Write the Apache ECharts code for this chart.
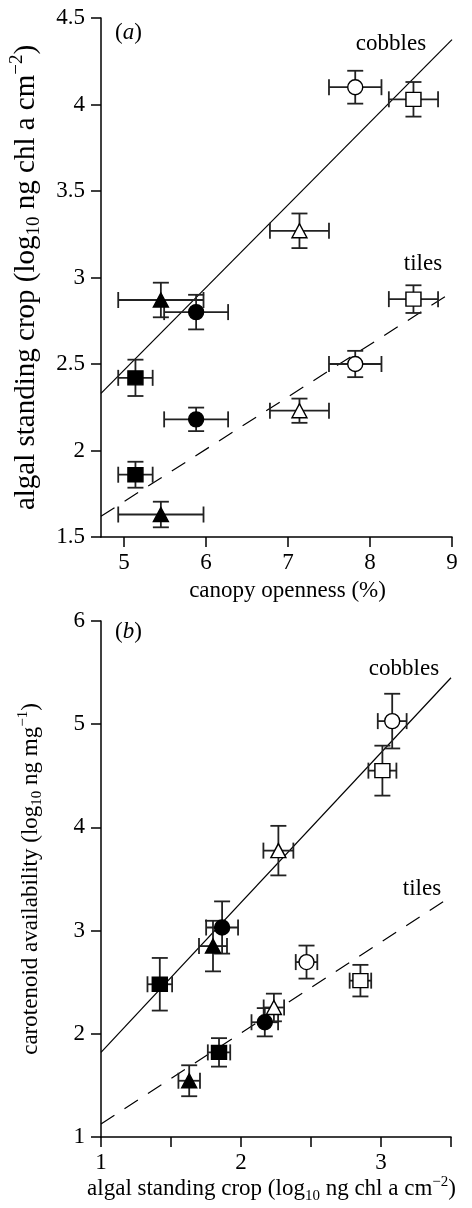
<!DOCTYPE html>
<html><head><meta charset="utf-8">
<script src="https://cdn.jsdelivr.net/npm/echarts@6/dist/echarts.min.js"></script>
<style>html,body{margin:0;padding:0;background:#fff}#c{width:472px;height:1208px}</style>
</head><body><div id="c"></div>
<script>
// sites: filled triangle, filled circle, filled square, open triangle, open circle, open square
const siteSymbols = ['triangle', 'circle', 'rect', 'triangle', 'circle', 'rect'];
const siteFilled = [true, true, true, false, false, false];

// Panel (a): canopy openness (%) vs algal standing crop
const aOpenness = [5.45, 5.88, 5.14, 7.14, 7.82, 8.53];
const aOpennessErr = [0.52, 0.39, 0.21, 0.36, 0.32, 0.30];
const aCobbles = [2.87, 2.80, 2.42, 3.27, 4.10, 4.03];
const aCobblesErr = [0.10, 0.10, 0.105, 0.10, 0.095, 0.10];
const aTiles = [1.63, 2.18, 1.86, 2.23, 2.50, 2.875];
const aTilesErr = [0.074, 0.068, 0.075, 0.07, 0.076, 0.08];
const aCobblesFit = [[4.72, 2.33], [9, 4.375]];
const aTilesFit = [[4.72, 1.62], [9, 2.915]];
const aXTicks = [5, 6, 7, 8, 9];

// Panel (b): algal standing crop vs carotenoid availability
const bCobX = [1.80, 1.865, 1.42, 2.267, 3.08, 3.01];
const bCobXErr = [0.10, 0.114, 0.088, 0.107, 0.103, 0.10];
const bCobY = [2.85, 3.03, 2.48, 3.775, 5.03, 4.55];
const bCobYErr = [0.245, 0.253, 0.255, 0.24, 0.265, 0.242];
const bTileX = [1.63, 2.17, 1.843, 2.235, 2.468, 2.853];
const bTileXErr = [0.077, 0.095, 0.08, 0.073, 0.077, 0.077];
const bTileY = [1.545, 2.112, 1.82, 2.255, 2.695, 2.515];
const bTileYErr = [0.15, 0.137, 0.138, 0.134, 0.16, 0.153];
const bCobFit = [[1, 1.82], [3.5, 5.45]];
const bTileFit = [[1, 1.126], [3.5, 3.33]];

const FONT = "'Liberation Serif','Times New Roman',serif";
function makeRich(fs) {
  const ss = Math.round(fs * 0.65), off = Math.round(fs * 0.6);
  return {
    n: {fontSize: fs, fontFamily: FONT, color: '#000'},
    sub: {fontSize: ss, fontFamily: FONT, color: '#000', padding: [off, 0, 0, 0]},
    sup: {fontSize: ss, fontFamily: FONT, color: '#000', padding: [0, 0, off, 0]},
    it: {fontSize: fs, fontFamily: FONT, color: '#000', fontStyle: 'italic'}
  };
}
const rich = makeRich(23);
const richBig = makeRich(29);
const axLine = {show: true, lineStyle: {color: '#000', width: 1.5}};
const axTick = {show: true, length: 10, lineStyle: {color: '#000', width: 1.5}};
const lblStyle = {fontSize: 23, fontFamily: FONT, color: '#000'};

function errData(xs, xe, ys, ye) { return xs.map((x, i) => [x, ys[i], xe[i], ye[i]]); }
function ptData(xs, ys) {
  return xs.map((x, i) => ({
    value: [x, ys[i]],
    symbol: siteSymbols[i],
    symbolSize: siteSymbols[i] === 'triangle' ? [15, 14] : (siteSymbols[i] === 'rect' ? [15, 14] : 15),
    itemStyle: {color: siteFilled[i] ? '#000' : '#fff', borderColor: '#000', borderWidth: 1.4, opacity: 1}
  }));
}
function renderErr(params, api) {
  const x = api.value(0), y = api.value(1), xe = api.value(2), ye = api.value(3);
  const L = api.coord([x - xe, y]), R = api.coord([x + xe, y]);
  const T = api.coord([x, y + ye]), B = api.coord([x, y - ye]);
  const c = 8;
  const st = {stroke: '#222', lineWidth: 1.8};
  const ln = (x1, y1, x2, y2) => ({type: 'line', shape: {x1, y1, x2, y2}, style: st});
  return {type: 'group', children: [
    ln(L[0], L[1], R[0], R[1]),
    ln(L[0], L[1] - c, L[0], L[1] + c),
    ln(R[0], R[1] - c, R[0], R[1] + c),
    ln(T[0], T[1], B[0], B[1]),
    ln(T[0] - c, T[1], T[0] + c, T[1]),
    ln(B[0] - c, B[1], B[0] + c, B[1])
  ]};
}
function errSeries(xi, data) {
  return {type: 'custom', xAxisIndex: xi, yAxisIndex: xi, data: data, renderItem: renderErr, z: 2, silent: true};
}
function ptSeries(xi, data) {
  return {type: 'scatter', xAxisIndex: xi, yAxisIndex: xi, data: data, z: 4, silent: true, itemStyle: {opacity: 1}};
}
function fitSeries(xi, data, dashed) {
  return {type: 'line', xAxisIndex: xi, yAxisIndex: xi, data: data, showSymbol: false, z: 1, silent: true,
    lineStyle: {color: '#000', width: 1.2, type: dashed ? [16, 12] : 'solid'}};
}

const chart = echarts.init(document.getElementById('c'), null, {renderer: 'canvas'});
chart.setOption({
  animation: false,
  backgroundColor: '#fff',
  grid: [
    {left: 101, top: 18, width: 351, height: 519},
    {left: 101, top: 621, width: 350, height: 516}
  ],
  xAxis: [
    {gridIndex: 0, type: 'value', min: 4.72, max: 9,
     axisLine: axLine, axisTick: Object.assign({customValues: aXTicks}, axTick),
     axisLabel: Object.assign({customValues: aXTicks, margin: 14}, lblStyle),
     splitLine: {show: false},
     name: '{n|canopy openness (%)}', nameLocation: 'middle', nameGap: 42,
     nameTextStyle: {rich: rich, padding: [0, 0, 0, 22]}},
    {gridIndex: 1, type: 'value', min: 1, max: 3.5, interval: 0.5,
     axisLine: axLine, axisTick: axTick,
     axisLabel: Object.assign({margin: 14, formatter: v => (Math.abs(v - Math.round(v)) < 1e-9 ? String(Math.round(v)) : '')}, lblStyle),
     splitLine: {show: false},
     name: '{n|algal standing crop (log}{sub|10}{n| ng chl a cm}{sup|−2}{n|)}', nameLocation: 'middle', nameGap: 37,
     nameTextStyle: {rich: rich, padding: [0, 9, 0, 0]}}
  ],
  yAxis: [
    {gridIndex: 0, type: 'value', min: 1.5, max: 4.5, interval: 0.5,
     axisLine: axLine, axisTick: axTick,
     axisLabel: Object.assign({margin: 16}, lblStyle),
     splitLine: {show: false},
     name: '{n|algal standing crop (log}{sub|10}{n| ng chl a cm}{sup|−2}{n|)}', nameLocation: 'middle', nameGap: 57,
     nameTextStyle: {rich: richBig, padding: [0, 0, 0, 0]}},
    {gridIndex: 1, type: 'value', min: 1, max: 6, interval: 1,
     axisLine: axLine, axisTick: axTick,
     axisLabel: Object.assign({margin: 16}, lblStyle),
     splitLine: {show: false},
     name: '{n|carotenoid availability (log}{sub|10}{n| ng mg}{sup|−1}{n|)}', nameLocation: 'middle', nameGap: 56,
     nameTextStyle: {rich: rich}}
  ],
  graphic: [
    {type: 'text', left: 115, top: 21, style: {text: '{n|(}{it|a}{n|)}', rich: rich}},
    {type: 'text', x: 391, y: 44, style: {text: 'cobbles', font: '23px ' + FONT, fill: '#000', align: 'center', verticalAlign: 'middle'}},
    {type: 'text', x: 423, y: 264, style: {text: 'tiles', font: '23px ' + FONT, fill: '#000', align: 'center', verticalAlign: 'middle'}},
    {type: 'text', left: 115, top: 620, style: {text: '{n|(}{it|b}{n|)}', rich: rich}},
    {type: 'text', x: 404, y: 669, style: {text: 'cobbles', font: '23px ' + FONT, fill: '#000', align: 'center', verticalAlign: 'middle'}},
    {type: 'text', x: 422, y: 889, style: {text: 'tiles', font: '23px ' + FONT, fill: '#000', align: 'center', verticalAlign: 'middle'}}
  ],
  series: [
    fitSeries(0, aCobblesFit, false),
    fitSeries(0, aTilesFit, true),
    errSeries(0, errData(aOpenness, aOpennessErr, aCobbles, aCobblesErr)),
    errSeries(0, errData(aOpenness, aOpennessErr, aTiles, aTilesErr)),
    ptSeries(0, ptData(aOpenness, aCobbles)),
    ptSeries(0, ptData(aOpenness, aTiles)),
    fitSeries(1, bCobFit, false),
    fitSeries(1, bTileFit, true),
    errSeries(1, errData(bCobX, bCobXErr, bCobY, bCobYErr)),
    errSeries(1, errData(bTileX, bTileXErr, bTileY, bTileYErr)),
    ptSeries(1, ptData(bCobX, bCobY)),
    ptSeries(1, ptData(bTileX, bTileY))
  ]
});
</script></body></html>
